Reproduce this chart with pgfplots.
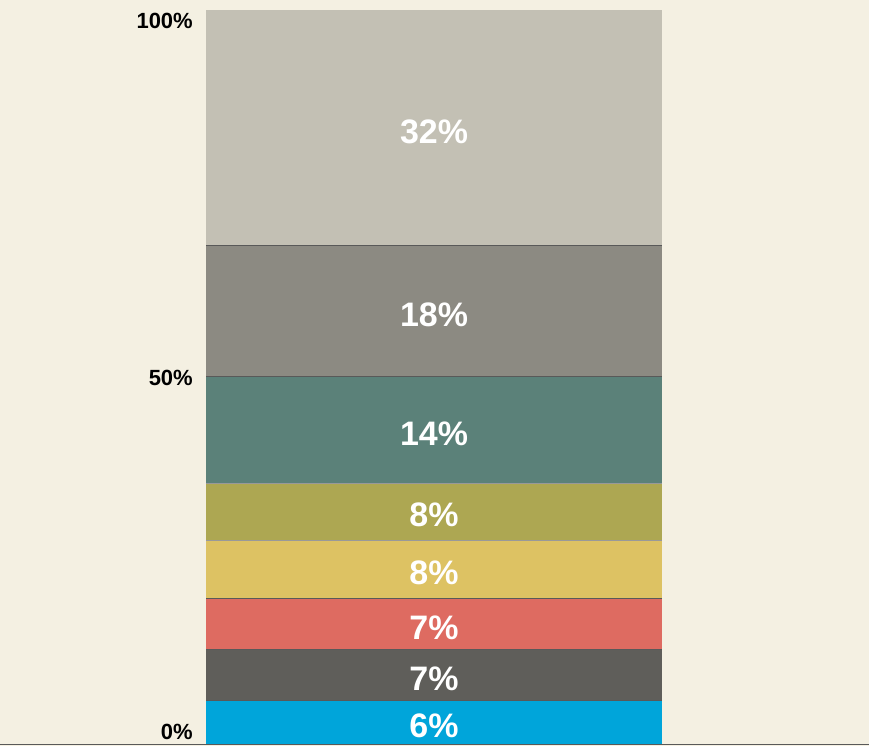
\documentclass[border=0pt]{standalone}
\usepackage{pgfplots}
\pgfplotsset{compat=1.18}
\usepackage{fontspec}
\setmainfont{Liberation Sans}

\definecolor{paper}{HTML}{F4F0E2}
\definecolor{cblue}{HTML}{00A5DA}
\definecolor{cdark}{HTML}{5F5E5A}
\definecolor{cred}{HTML}{DE6B61}
\definecolor{cyellow}{HTML}{DDC263}
\definecolor{colive}{HTML}{ADA752}
\definecolor{cteal}{HTML}{5B8179}
\definecolor{cgray}{HTML}{8C8A82}
\definecolor{clight}{HTML}{C3C0B4}

\pgfplotsset{
  barframe/.style={
    at={(206bp,2bp)}, anchor=south west,
    scale only axis,
    width=456bp, height=735bp,
    hide axis, clip=false,
    xmin=-0.5, xmax=0.5, ymin=0, ymax=100,
  },
  sep/.style={sharp plot, black!65, line width=0.8bp, no marks},
}

\begin{document}
\begin{tikzpicture}
\fill[paper] (0,0) rectangle (869bp,747bp);
\draw[black!65, line width=1bp] (0,1.5bp) -- (869bp,1.5bp);
\begin{axis}[
    barframe,
    ybar stacked, bar width=456bp, bar shift=0pt,
  ]
% segments, bottom to top
\addplot+[fill=cblue, draw=none] coordinates {(0,5.9)};
\addplot+[fill=cdark, draw=none] coordinates {(0,7.0)};
\addplot+[fill=cred, draw=none] coordinates {(0,7.0)};
\addplot+[fill=cyellow, draw=none] coordinates {(0,7.9)};
\addplot+[fill=colive, draw=none] coordinates {(0,7.7)};
\addplot+[fill=cteal, draw=none] coordinates {(0,14.6)};
\addplot+[fill=cgray, draw=none] coordinates {(0,17.8)};
\addplot+[fill=clight, draw=none] coordinates {(0,32.1)};
\end{axis}

\begin{axis}[barframe]
% thin separators between segments
\addplot[sep] coordinates {(-0.5,5.9) (0.5,5.9)};
\addplot[sep] coordinates {(-0.5,12.9) (0.5,12.9)};
\addplot[sep] coordinates {(-0.5,19.9) (0.5,19.9)};
\addplot[sep, black!40, line width=0.5bp] coordinates {(-0.5,27.8) (0.5,27.8)};
\addplot[sep, black!40, line width=0.5bp] coordinates {(-0.5,35.5) (0.5,35.5)};
\addplot[sep] coordinates {(-0.5,50.1) (0.5,50.1)};
\addplot[sep] coordinates {(-0.5,67.9) (0.5,67.9)};

% segment labels
\begin{scope}[every node/.style={text=white, font=\fontsize{34bp}{34bp}\selectfont\bfseries}]
\node at (axis cs:0,2.45) {6\%};
\node at (axis cs:0,8.9) {7\%};
\node at (axis cs:0,15.9) {7\%};
\node at (axis cs:0,23.4) {8\%};
\node at (axis cs:0,31.2) {8\%};
\node at (axis cs:0,42.3) {14\%};
\node at (axis cs:0,58.5) {18\%};
\node at (axis cs:0,83.4) {32\%};
\end{scope}

% axis labels
\begin{scope}[every node/.style={anchor=east, font=\fontsize{22bp}{22bp}\selectfont\bfseries, xshift=-10bp}]
\node at (axis cs:-0.5,98.5) {100\%};
\node at (axis cs:-0.5,49.9) {50\%};
\node at (axis cs:-0.5,1.7) {0\%};
\end{scope}
\end{axis}
\end{tikzpicture}
\end{document}
